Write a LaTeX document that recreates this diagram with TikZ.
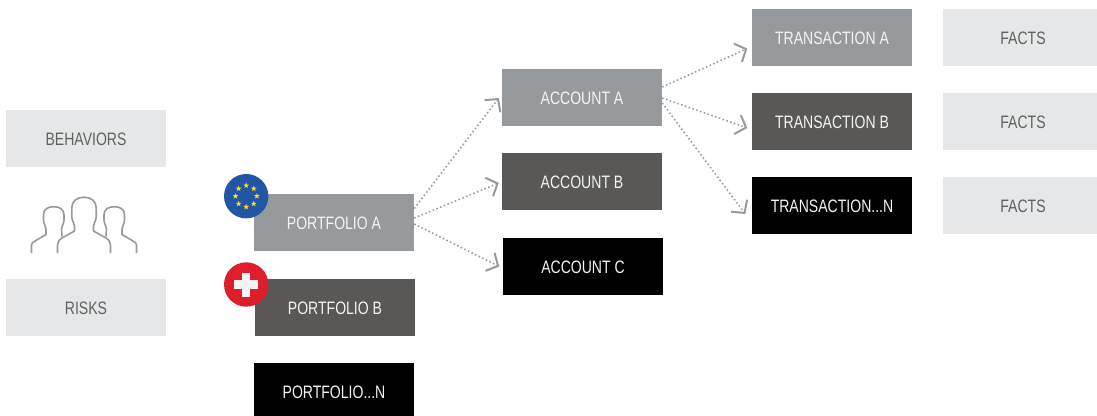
\documentclass[tikz,border=0pt]{standalone}
\usepackage{fontspec}
\setmainfont[FakeStretch=0.78]{Liberation Sans}
\usetikzlibrary{arrows.meta,calc,shapes.geometric}
\definecolor{midgray}{HTML}{969A9C}
\definecolor{darkgray}{HTML}{595856}
\definecolor{lightbox}{HTML}{E6E7E8}
\definecolor{lighttext}{HTML}{606060}
\definecolor{paletext}{HTML}{F4F4F4}
\definecolor{euBlue}{HTML}{2355A5}
\definecolor{euStar}{HTML}{FDD835}
\definecolor{chRed}{HTML}{DC1F2B}
\newcommand{\boxlbl}[1]{\raisebox{-0.1pt}[13pt][0pt]{#1}}
\tikzset{
  x=1pt,y=-1pt,
  basebox/.style={rectangle,minimum width=160pt,minimum height=57pt,inner sep=0pt,font=\fontsize{18}{20}\selectfont},
  lightnode/.style={basebox,fill=lightbox,text=lighttext},
  midnode/.style={basebox,fill=midgray,text=paletext},
  darknode/.style={basebox,fill=darkgray,text=paletext},
  blacknode/.style={basebox,fill=black,text=paletext},
  link/.style={draw=midgray,line width=1.6pt,dash pattern=on 1.5pt off 2.5pt,
    -{Straight Barb[length=9pt,width=20pt,line width=2pt]}},
  person/.style={draw=midgray,line width=1.6pt,line join=round,fill=none},
  badge/.style={circle,minimum size=44.4pt,inner sep=0pt},
  eustar/.style={star,star points=5,star point ratio=2.4,minimum size=6pt,inner sep=0pt,fill=euStar},
}
\begin{document}
\begin{tikzpicture}
\useasboundingbox (0,0) rectangle (1097,415);
\clip (0,0) rectangle (1097,415);
\node[lightnode] (beh) at (86,138.5) {\boxlbl{BEHAVIORS}};
\node[lightnode] (risk) at (86,307.5) {\boxlbl{RISKS}};
\node[midnode] (pa) at (334,222.5) {\boxlbl{PORTFOLIO A}};
\node[darknode] (pb) at (335,307.5) {\boxlbl{PORTFOLIO B}};
\node[blacknode] (pn) at (334,391.5) {\boxlbl{PORTFOLIO...N}};
\node[midnode] (aa) at (582,97.5) {\boxlbl{ACCOUNT A}};
\node[darknode] (ab) at (582,181.5) {\boxlbl{ACCOUNT B}};
\node[blacknode] (ac) at (583,266.5) {\boxlbl{ACCOUNT C}};
\node[midnode] (ta) at (832,37.5) {\boxlbl{TRANSACTION A}};
\node[darknode] (tb) at (832,121.5) {\boxlbl{TRANSACTION B}};
\node[blacknode] (tn) at (832,205.5) {\boxlbl{TRANSACTION...N}};
\node[lightnode] (fa) at (1023,37.5) {\boxlbl{FACTS}};
\node[lightnode] (fb) at (1023,121.5) {\boxlbl{FACTS}};
\node[lightnode] (fc) at (1023,205.5) {\boxlbl{FACTS}};
% connectors
\draw[link] ($(pa.east)+(0,-14)$) -- ($(aa.west)+(-3,0.5)$);
\draw[link] ($(pa.east)+(0,-4.5)$) -- ($(ab.west)+(-3,1.5)$);
\draw[link] ($(pa.east)+(0,1.5)$) -- ($(ac.west)+(-3.5,0)$);
\draw[link] ($(aa.east)+(0,-10.5)$) -- ($(ta.west)+(-4.5,11)$);
\draw[link] ($(aa.east)+(0,0.5)$) -- ($(tb.west)+(-4.5,6.5)$);
\draw[link] ($(aa.east)+(0,5.5)$) -- ($(tn.west)+(-6.5,8.5)$);
% people icon
\draw[person] (31.5,253) -- (31.5,245) .. controls (31.5,243) and (33,242) .. (35,241) -- (46,234.5) -- (46,229)
  .. controls (46,226) and (43.5,224) .. (43.5,220) -- (43.5,215) .. controls (43.5,209) and (48,206.7) .. (53.7,206.7)
  .. controls (59.5,206.7) and (64,209) .. (64,215) -- (64,220) .. controls (64,224) and (61.5,226) .. (61.5,229) -- (62,236.5);
\draw[person] (136.5,253) -- (136.5,245) .. controls (136.5,243) and (135,242) .. (133,241) -- (122,234.5) -- (122,229)
  .. controls (122,226) and (124.5,224) .. (124.5,220) -- (124.5,215) .. controls (124.5,209) and (120,206.7) .. (114.3,206.7)
  .. controls (108.5,206.7) and (104,209) .. (104,215) -- (104,220) .. controls (104,224) and (106.5,226) .. (106.5,229) -- (106,236.5);
\draw[person] (57.5,253) -- (57.5,245) .. controls (57.5,242) and (59,240) .. (62,238) -- (74.5,231) -- (74.5,226)
  .. controls (74.5,223) and (71.8,221) .. (71.8,217) -- (71.8,208) .. controls (71.8,201) and (77,197.2) .. (84,197.2)
  .. controls (91,197.2) and (96.2,201) .. (96.2,208) -- (96.2,217) .. controls (96.2,221) and (93.5,223) .. (93.5,226) -- (93.5,231)
  -- (106,238) .. controls (109,240) and (110.5,242) .. (110.5,245) -- (110.5,253);
% badges
\node[badge,fill=euBlue] (eu) at (246.2,196.2) {};
\foreach \i in {0,...,7}{
  \node[eustar] (s\i) at ($(eu.center)+({45*\i}:10.7)$) {};
}
\node[badge,fill=chRed] (ch) at (246.2,284.5) {};
\fill[paletext] ($(ch.center)+(-12,-4.2)$) rectangle ($(ch.center)+(12,4.2)$);
\fill[paletext] ($(ch.center)+(-4.2,-12)$) rectangle ($(ch.center)+(4.2,12)$);
\end{tikzpicture}
\end{document}
